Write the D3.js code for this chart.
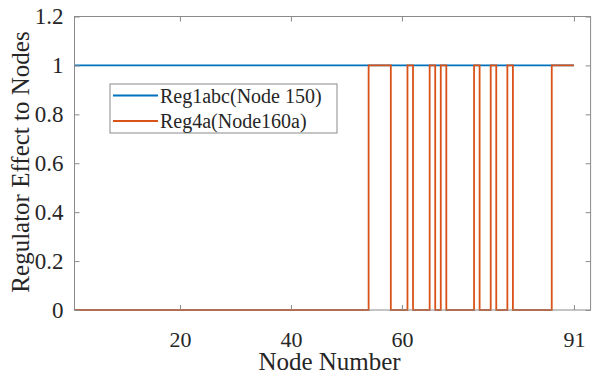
<!DOCTYPE html>
<html><head><meta charset="utf-8">
<script src="https://cdn.jsdelivr.net/npm/d3@7"></script>
<style>body{margin:0;background:#fff}svg{display:block}svg text{font-family:"Liberation Serif","DejaVu Serif",serif !important;fill:#262626}</style>
</head><body>
<svg id="c" width="592" height="375"></svg>
<script>
const nodes = d3.range(1, 92);
const reg1abc = nodes.map(() => 1);
const onNodes4a = [54,55,56,57,61,65,67,73,76,79,87,88,89,90,91];
const reg4a = nodes.map(n => onNodes4a.includes(n) ? 1 : 0);
const xTicks = [20, 40, 60, 91];
const yTicks = [0, 0.2, 0.4, 0.6, 0.8, 1, 1.2];
const seriesNames = ["Reg1abc(Node 150)", "Reg4a(Node160a)"];
const colors = ["#0072BD", "#D95319"];

const svg = d3.select("#c");
const L = 74.5, R = 590.6, T = 16.5, B = 310;
const x = d3.scaleLinear().domain([1, 94]).range([L, R]);
const y = d3.scaleLinear().domain([0, 1.2]).range([B, T]);
const axisCol = "#8a8a8a";
const FF = "Liberation Serif";

svg.append("rect").attr("x", L).attr("y", T).attr("width", R - L).attr("height", B - T)
  .attr("fill", "#fff");

const line = d3.line().x((d, i) => x(nodes[i])).y(d => y(d)).curve(d3.curveStepAfter);
[reg1abc, reg4a].forEach((s, k) => {
  svg.append("path").attr("d", line(s)).attr("fill", "none")
    .attr("stroke", colors[k]).attr("stroke-width", 1.8);
});

// box
svg.append("rect").attr("x", L).attr("y", T).attr("width", R - L).attr("height", B - T)
  .attr("fill", "none").attr("stroke", axisCol).attr("stroke-width", 1);

// x ticks (inward, bottom and top)
const gx = svg.append("g").attr("transform", `translate(0,${B})`)
  .call(d3.axisBottom(x).tickValues(xTicks).tickSizeInner(-5).tickSizeOuter(0).tickPadding(21.5).tickFormat(d3.format("d")));
gx.attr("font-family", FF);
gx.select(".domain").remove();
gx.selectAll("line").attr("stroke", axisCol);
gx.selectAll("text").attr("font-size", 22).attr("fill", "#262626");
const gxt = svg.append("g").attr("transform", `translate(0,${T})`)
  .call(d3.axisTop(x).tickValues(xTicks).tickSizeInner(-5).tickSizeOuter(0).tickFormat(""));
gxt.select(".domain").remove();
gxt.selectAll("line").attr("stroke", axisCol);

const gy = svg.append("g").attr("transform", `translate(${L},0)`)
  .call(d3.axisLeft(y).tickValues(yTicks).tickSizeInner(-5).tickSizeOuter(0).tickPadding(11).tickFormat(d => String(+d.toFixed(1))));
gy.attr("font-family", FF);
gy.select(".domain").remove();
gy.selectAll("line").attr("stroke", axisCol);
gy.selectAll("text").attr("font-size", 23).attr("fill", "#262626");
const gyr = svg.append("g").attr("transform", `translate(${R},0)`)
  .call(d3.axisRight(y).tickValues(yTicks).tickSizeInner(-5).tickSizeOuter(0).tickFormat(""));
gyr.select(".domain").remove();
gyr.selectAll("line").attr("stroke", axisCol);

// axis titles
svg.append("text").attr("x", (L + R) / 2 - 3).attr("y", 370).attr("text-anchor", "middle")
  .attr("font-family", FF).attr("font-size", 25).text("Node Number");
svg.append("text").attr("transform", "translate(29,162) rotate(-90)").attr("text-anchor", "middle")
  .attr("font-family", FF).attr("font-size", 25).text("Regulator Effect to Nodes");

// legend
const lg = svg.append("g");
lg.append("rect").attr("x", 110).attr("y", 84).attr("width", 227).attr("height", 49)
  .attr("fill", "#fff").attr("stroke", axisCol).attr("stroke-width", 1);
seriesNames.forEach((n, k) => {
  const yy = 95.5 + k * 25.5;
  lg.append("line").attr("x1", 113).attr("x2", 158).attr("y1", yy).attr("y2", yy)
    .attr("stroke", colors[k]).attr("stroke-width", 1.8);
  lg.append("text").attr("x", 160).attr("y", yy).attr("dy", "0.35em")
    .attr("font-family", FF).attr("font-size", 20).text(n);
});
</script>
</body></html>
